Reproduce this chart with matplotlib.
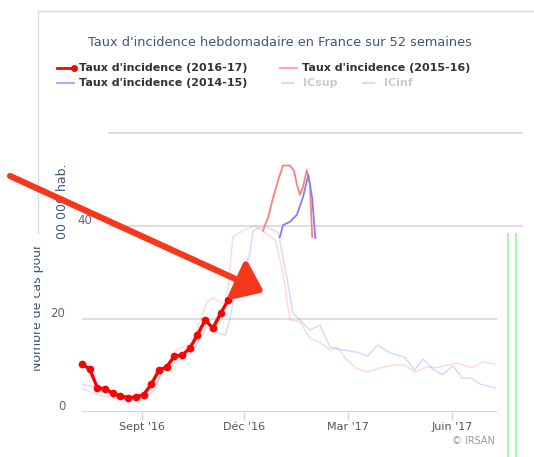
import matplotlib.pyplot as plt
from matplotlib.lines import Line2D
from matplotlib.patches import FancyArrowPatch, ArrowStyle
from matplotlib import patheffects as pe
from matplotlib.transforms import ScaledTranslation, Bbox

# semaines depuis le debut de la fenetre (mi-juillet 2016)
sem_1617 = list(range(20))
taux_1617 = [10.3, 9.2, 5.2, 5.0, 4.0, 3.4, 3.1, 3.2, 3.7, 6.0,
             9.0, 9.7, 12.0, 12.2, 13.7, 16.6, 19.8, 18.0, 21.2, 24.1]

# courbes pales (2015-16 et 2014-15)
sem_1516_pale = [0, 2.1, 3.8, 6.0, 8.2, 9.5, 10.8, 12.3, 14.4, 16.2, 17.0, 18.3, 18.8,
                 19.6, 20.9, 22.5, 23.4, 25.1, 26.1, 27.0, 28.3, 29.6, 30.9, 32.2,
                 33.2, 34.2, 35.5, 37.0, 38.7, 40.4, 41.9, 43.2, 44.8, 46.1, 47.4,
                 48.7, 50.6, 52.1, 53.6]
taux_1516_pale = [5.0, 3.7, 3.0, 3.0, 4.0, 5.8, 9.7, 13.3, 15.0, 23.7, 24.5, 23.4, 24.0,
                  37.6, 39.0, 40.0, 39.0, 37.0, 30.0, 19.8, 19.4, 15.9, 15.0, 13.3,
                  13.8, 11.6, 9.5, 8.6, 9.5, 10.1, 10.1, 8.6, 9.7, 9.5, 10.1,
                  10.5, 9.5, 10.8, 10.3]

sem_1415_pale = [0, 2.1, 3.8, 5.1, 6.9, 8.2, 9.5, 10.3, 11.6, 12.7, 14.4, 16.2, 17.5,
                 18.6, 19.2, 20.1, 20.9, 21.8, 22.2, 23.8, 25.5, 26.6, 27.4, 28.3,
                 29.6, 30.9, 32.2, 33.9, 35.7, 37.1, 38.4, 40.0, 41.9, 43.2, 44.3,
                 45.6, 46.8, 48.2, 49.4, 50.6, 51.7, 53.6]
taux_1415_pale = [6.0, 5.2, 4.3, 2.8, 2.6, 3.2, 4.7, 8.4, 10.0, 11.2, 13.0, 18.3, 17.2,
                  16.5, 19.8, 28.4, 30.0, 34.0, 39.0, 40.0, 38.5, 29.0, 21.3, 19.8,
                  17.6, 18.7, 14.0, 13.3, 12.9, 12.0, 14.4, 12.7, 11.8, 9.0, 11.4,
                  9.2, 8.0, 9.9, 7.3, 7.3, 6.0, 5.2]

# segments nets autour du pic
sem_1516 = [23.5, 24.2, 24.8, 25.5, 26.1, 27.0, 27.5, 27.9, 28.3, 28.7, 29.2, 29.6, 29.9]
taux_1516 = [39.0, 42.0, 46.0, 50.0, 53.0, 53.0, 52.0, 49.0, 46.7, 48.4, 52.0, 49.0, 37.6]
sem_1415 = [25.7, 26.1, 27.0, 27.9, 28.7, 29.4, 29.9, 30.3]
taux_1415 = [37.6, 40.2, 40.9, 42.4, 46.2, 51.0, 46.0, 37.4]

mois_pos = [7.8, 21.0, 34.5, 48.1]
mois_lab = ["Sept '16", "Déc '16", "Mar '17", "Juin '17"]
y_ticks = [0, 20, 40]

W, H = 534, 457
fig = plt.figure(figsize=(W / 100, H / 100), dpi=100)
fig.patch.set_facecolor("white")

def fx(px):
    return px / W

def fy(py):
    return 1 - py / H

ax = fig.add_axes([fx(82), fy(412), fx(497) - fx(82), fy(133) - fy(412)])
ax.set_xlim(0, 53.9)
ax.set_ylim(0, 60)
for s in ax.spines.values():
    s.set_visible(False)

ax.axhline(20, color="#d8d8d8", lw=1.2, zorder=0)
ax.axhline(40, xmin=0.065, xmax=1.06, color="#d8d8d8", lw=1.2, zorder=0, clip_on=False)
ax.axhline(60, xmin=0.065, xmax=1.06, color="#d8d8d8", lw=1.2, zorder=0, clip_on=False)
ax.axhline(0, color="#ccd6eb", lw=1.5, zorder=1)

ax.plot(sem_1516_pale, taux_1516_pale, color="#ff6a6a", alpha=0.25, lw=1.1)
ax.plot(sem_1415_pale, taux_1415_pale, color="#6a6aff", alpha=0.25, lw=1.1)
ax.plot(sem_1516, taux_1516, color="#ff7f7f", lw=1.3)
ax.plot(sem_1415, taux_1415, color="#7f7fff", lw=1.3)
ax.plot(sem_1617, taux_1617, color="#ff0000", lw=2.4, marker="o", ms=4.5, clip_on=False, zorder=5)

ax.set_xticks(mois_pos)
ax.set_xticklabels(mois_lab, fontsize=8, color="#555555")
ax.tick_params(axis="x", length=6, width=1, color="#ccd6eb", pad=1)
ax.set_yticks(y_ticks)
ax.set_yticklabels([str(v) for v in y_ticks], fontsize=8.5, color="#666666")
ax.tick_params(axis="y", length=0, pad=12)
for lab in ax.get_yticklabels():
    dx = 27 / 100 if lab.get_text() == "40" else 0
    lab.set_transform(lab.get_transform() + ScaledTranslation(dx, 7 / 100, fig.dpi_scale_trans))

# cadre
fig.add_artist(Line2D([fx(38), 1], [fy(11), fy(11)], color="#dddddd", lw=1))
fig.add_artist(Line2D([fx(38), fx(38)], [fy(11), fy(233)], color="#dddddd", lw=1))

# lignes vertes a droite
for px in (508, 516):
    fig.add_artist(Line2D([fx(px), fx(px)], [0, fy(234)], color="#a6f5a6", lw=1.4))

fig.text(fx(280), fy(43), "Taux d'incidence hebdomadaire en France sur 52 semaines",
         ha="center", va="center", fontsize=9.3, color="#3f5679")

# legende
leg = [(57, 68, "#ff0000", "-", "Taux d'incidence (2016-17)", "#333333", True),
       (280, 68, "#ffaaaa", "-", "Taux d'incidence (2015-16)", "#333333", False),
       (57, 83, "#aaaaff", "-", "Taux d'incidence (2014-15)", "#333333", False),
       (281, 83, "#dddddd", "-.", "ICsup", "#cccccc", False),
       (362, 83, "#dddddd", "-.", "ICinf", "#cccccc", False)]
for x0, y0, c, ls, txt, tc, mk in leg:
    fig.add_artist(Line2D([fx(x0), fx(x0 + 17)], [fy(y0), fy(y0)], color=c, ls=ls,
                          lw=2 if mk else 1.5, marker="o" if mk else None,
                          markevery=[1] if mk else None, ms=4))
    fig.text(fx(x0 + 22), fy(y0), txt, ha="left", va="center", fontsize=8,
             fontweight="bold", color=tc)

# titre de l'axe y (rendu decale)
fig.text(fx(62), fy(201), "00 000 hab.", rotation=90, ha="center", va="center",
         fontsize=9, color="#3f5679")
t = fig.text(fx(37), fy(307), "Nombre de cas pour", rotation=90, ha="center",
             va="center", fontsize=9, color="#3f5679")
t.set_clip_box(Bbox([[34, 0], [W, H]]))
t.set_clip_on(True)

fig.text(fx(495), fy(441), "© IRSAN", ha="right", va="center", fontsize=7, color="#999999")

# fleche rouge
fleche = FancyArrowPatch((fx(10), fy(176)), (fx(264), fy(292)), transform=fig.transFigure,
                         arrowstyle=ArrowStyle("-|>", head_length=0.55, head_width=0.42),
                         mutation_scale=30, color="#f5381c", lw=4.5,
                         shrinkA=0, shrinkB=0, zorder=10)
fleche.set_path_effects([pe.SimplePatchShadow(offset=(2, -2), alpha=0.3), pe.Normal()])
fig.add_artist(fleche)

fig.savefig("out.png", dpi=100)
